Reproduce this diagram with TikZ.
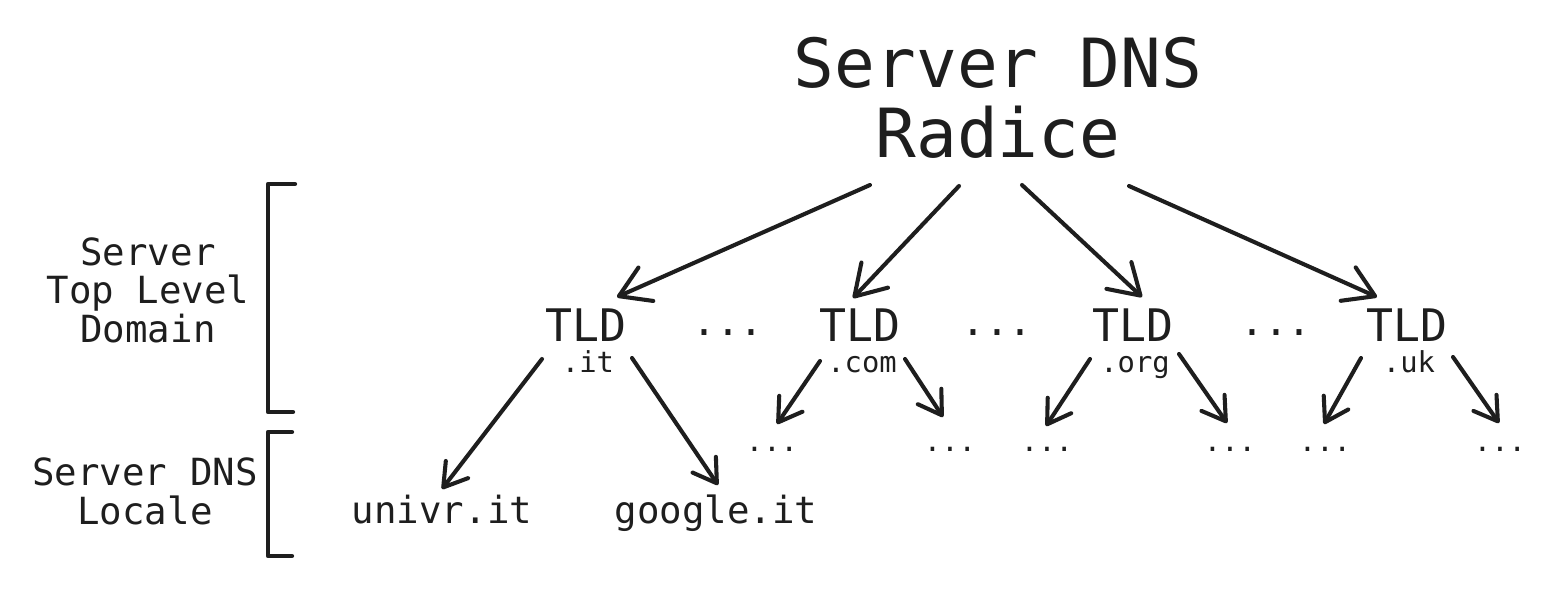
\documentclass[tikz,border=0pt]{standalone}
\usepackage{fontspec}
\setmonofont{DejaVu Sans Mono}
\usetikzlibrary{arrows.meta,calc}
\definecolor{ink}{HTML}{1E1E1E}

\begin{document}
\begin{tikzpicture}[x=0.025cm,y=-0.025cm,
  testo/.style={ink,inner sep=0pt,anchor=base},
  freccia/.style={ink,line width=2.9pt,line cap=round,-{Straight Barb[length=16pt,width=20pt,line join=round,line cap=round]}},
  frecciagrande/.style={freccia,-{Straight Barb[length=21pt,width=26pt,line join=round,line cap=round]}},
  parentesi/.style={ink,line width=3pt,line cap=round,line join=round}]
\useasboundingbox (0,0) rectangle (1553,588);
% radice
\node[testo,font=\ttfamily\fontsize{48.2pt}{49.6pt}\selectfont] (server) at (998,87) {Server DNS};
\node[testo,font=\ttfamily\fontsize{48.2pt}{49.6pt}\selectfont] (radice) at (998,157) {Radice};
% etichette a sinistra
\node[testo,align=center,font=\ttfamily\fontsize{26.6pt}{27.2pt}\selectfont] (toplevel) at (148,342) {Server\\Top Level\\Domain};
\node[testo,align=center,font=\ttfamily\fontsize{26.6pt}{27.6pt}\selectfont] (locale) at (145,524) {Server DNS\\Locale};
\draw[parentesi] (295,184) -- (268,184) -- (268,412) -- (293,412);
\draw[parentesi] (292,432) -- (268,432) -- (268,556) -- (292,556);
% server TLD
\node[testo,font=\ttfamily\fontsize{31.9pt}{34pt}\selectfont] (tldit) at (586,341) {TLD};
\node[testo,font=\ttfamily\fontsize{31.9pt}{34pt}\selectfont] (tldcom) at (860,341) {TLD};
\node[testo,font=\ttfamily\fontsize{31.9pt}{34pt}\selectfont] (tldorg) at (1133,341) {TLD};
\node[testo,font=\ttfamily\fontsize{31.9pt}{34pt}\selectfont] (tlduk) at (1407,341) {TLD};
\node[testo,font=\ttfamily\fontsize{20.5pt}{22pt}\selectfont] (it) at (588,372) {.it};
\node[testo,font=\ttfamily\fontsize{20.5pt}{22pt}\selectfont] (com) at (862,372) {.com};
\node[testo,font=\ttfamily\fontsize{20.5pt}{22pt}\selectfont] (org) at (1135,372) {.org};
\node[testo,font=\ttfamily\fontsize{20.5pt}{22pt}\selectfont] (uk) at (1409,372) {.uk};
\node[testo,font=\ttfamily\fontsize{28.3pt}{30pt}\selectfont] (puntini1) at (728,335) {...};
\node[testo,font=\ttfamily\fontsize{28.3pt}{30pt}\selectfont] (puntini2) at (997,335) {...};
\node[testo,font=\ttfamily\fontsize{28.3pt}{30pt}\selectfont] (puntini3) at (1276,335) {...};
% server locali
\node[testo,font=\ttfamily\fontsize{26.6pt}{28pt}\selectfont] (univr) at (442,523) {univr.it};
\node[testo,font=\ttfamily\fontsize{26.6pt}{28pt}\selectfont] (google) at (716,523) {google.it};
\node[testo,font=\ttfamily\fontsize{20.5pt}{22pt}\selectfont] (comsx) at (772,451) {...};
\node[testo,font=\ttfamily\fontsize{20.5pt}{22pt}\selectfont] (comdx) at (950,451) {...};
\node[testo,font=\ttfamily\fontsize{20.5pt}{22pt}\selectfont] (orgsx) at (1047,451) {...};
\node[testo,font=\ttfamily\fontsize{20.5pt}{22pt}\selectfont] (orgdx) at (1230,451) {...};
\node[testo,font=\ttfamily\fontsize{20.5pt}{22pt}\selectfont] (uksx) at (1325,451) {...};
\node[testo,font=\ttfamily\fontsize{20.5pt}{22pt}\selectfont] (ukdx) at (1500,451) {...};
% frecce dalla radice
\draw[frecciagrande] ($(radice.base)+(-128,28)$) -- ($(tldit.base)+(31,-44)$);
\draw[frecciagrande] ($(radice.base)+(-39,29)$) -- ($(tldcom.base)+(-7,-43)$);
\draw[frecciagrande] ($(radice.base)+(24,28)$) -- ($(tldorg.base)+(9,-44)$);
\draw[frecciagrande] ($(radice.base)+(131,29)$) -- ($(tlduk.base)+(-30,-44)$);
% frecce dai TLD
\draw[freccia] ($(it.base)+(-46,-13)$) -- ($(univr.base)+(0,-34)$);
\draw[freccia] ($(it.base)+(44,-14)$) -- ($(google.base)+(2,-38)$);
\draw[freccia] ($(com.base)+(-42,-11)$) -- ($(comsx.base)+(5,-27)$);
\draw[freccia] ($(com.base)+(43,-13)$) -- ($(comdx.base)+(-7,-34)$);
\draw[freccia] ($(org.base)+(-45,-13)$) -- ($(orgsx.base)+(-1,-25)$);
\draw[freccia] ($(org.base)+(44,-18)$) -- ($(orgdx.base)+(-3,-28)$);
\draw[freccia] ($(uk.base)+(-48,-14)$) -- ($(uksx.base)+(-1,-27)$);
\draw[freccia] ($(uk.base)+(44,-15)$) -- ($(ukdx.base)+(-1,-28)$);
\end{tikzpicture}
\end{document}
